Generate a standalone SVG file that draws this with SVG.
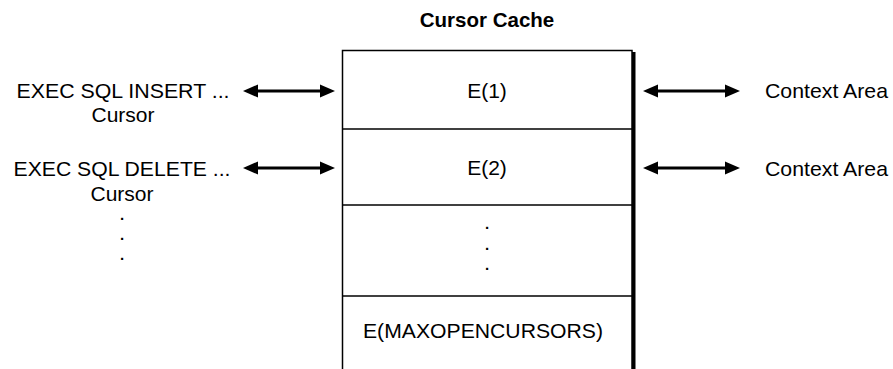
<svg xmlns="http://www.w3.org/2000/svg" width="893" height="369" viewBox="0 0 893 369">
<style>
text { font-family: "Liberation Sans", Arial, sans-serif; font-size: 21px; fill: #000; }
.title { font-weight: bold; text-anchor: middle; font-size: 20.5px; }
.mid { text-anchor: middle; }
.dot { text-anchor: middle; font-size: 15px; font-weight: bold; }
.line { stroke: #000; stroke-width: 3; fill: none; }
.head { fill: #000; }
.cell { fill: #fff; stroke: #000; stroke-width: 1.5; }
</style>
<defs>
<path id="arrow-l" class="head" d="M0,0 L15,-6.5 L15,6.5 Z"/>
<path id="arrow-r" class="head" d="M0,0 L-15,-6.5 L-15,6.5 Z"/>
</defs>
<rect width="893" height="369" fill="#fff"/>

<g id="cursor-cache">
<text class="title" x="487" y="27">Cursor Cache</text>
<rect x="631.5" y="52" width="4" height="330" fill="#000"/>
<rect class="cell" x="342.5" y="50.5" width="289.5" height="340"/>
<line x1="342.5" y1="129" x2="632" y2="129" stroke="#000" stroke-width="1.5"/>
<line x1="342.5" y1="205" x2="632" y2="205" stroke="#000" stroke-width="1.5"/>
<line x1="342.5" y1="296" x2="632" y2="296" stroke="#000" stroke-width="1.5"/>
<text class="mid" x="487" y="98">E(1)</text>
<text class="mid" x="487" y="175">E(2)</text>
<text class="dot" x="487" y="229">.</text>
<text class="dot" x="487" y="250">.</text>
<text class="dot" x="487" y="270">.</text>
<text x="363" y="338" textLength="240" lengthAdjust="spacingAndGlyphs">E(MAXOPENCURSORS)</text>
</g>

<g id="insert-cursor">
<text class="mid" x="123" y="98" textLength="213" lengthAdjust="spacingAndGlyphs">EXEC SQL INSERT ...</text>
<text class="mid" x="123" y="122">Cursor</text>
</g>

<g id="delete-cursor">
<text class="mid" x="122" y="176" textLength="217" lengthAdjust="spacingAndGlyphs">EXEC SQL DELETE ...</text>
<text class="mid" x="122" y="201">Cursor</text>
<text class="dot" x="122" y="220">.</text>
<text class="dot" x="122" y="240">.</text>
<text class="dot" x="122" y="260">.</text>
</g>

<g id="context-area-1">
<text x="765" y="98" textLength="123" lengthAdjust="spacingAndGlyphs">Context Area</text>
</g>
<g id="context-area-2">
<text x="765" y="176" textLength="123" lengthAdjust="spacingAndGlyphs">Context Area</text>
</g>

<g id="connectors">
<line class="line" x1="255" y1="91" x2="323" y2="91"/>
<use href="#arrow-l" x="243" y="91"/>
<use href="#arrow-r" x="335" y="91"/>
<line class="line" x1="255" y1="168" x2="323" y2="168"/>
<use href="#arrow-l" x="243" y="168"/>
<use href="#arrow-r" x="335" y="168"/>
<line class="line" x1="655" y1="91" x2="728" y2="91"/>
<use href="#arrow-l" x="643" y="91"/>
<use href="#arrow-r" x="740" y="91"/>
<line class="line" x1="655" y1="168" x2="728" y2="168"/>
<use href="#arrow-l" x="643" y="168"/>
<use href="#arrow-r" x="740" y="168"/>
</g>
</svg>
